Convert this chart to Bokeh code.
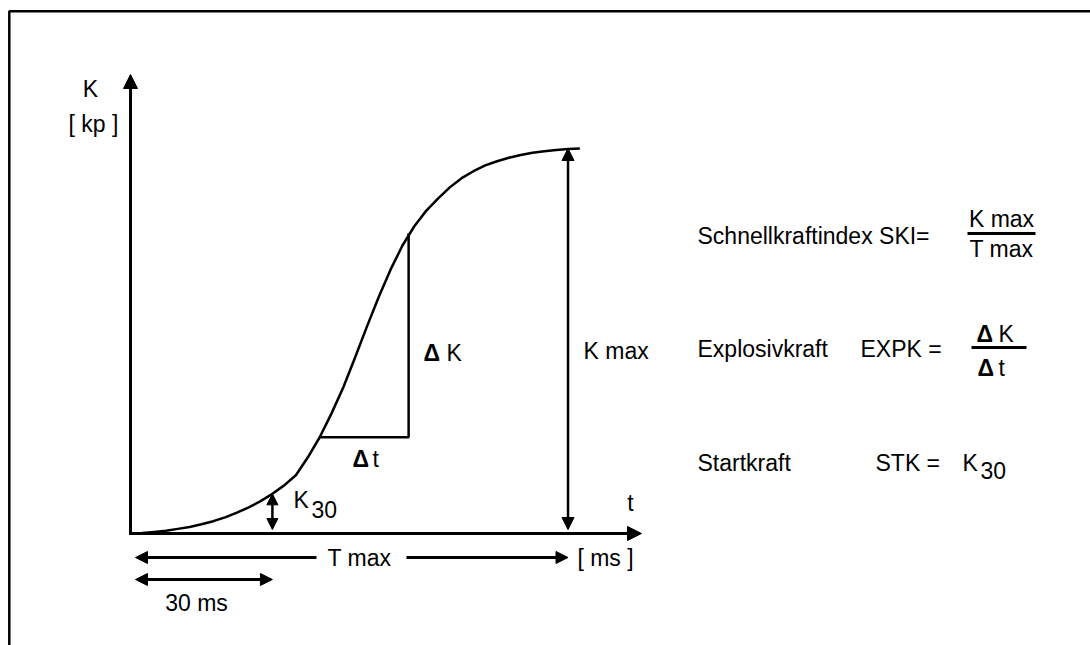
from bokeh.plotting import figure
from bokeh.models import Range1d, Arrow, NormalHead, ColumnDataSource
from bokeh.core.properties import value
from bokeh.embed import file_html
from bokeh.resources import INLINE

# ---- data (schematic force-time curve) ----
t_ms = [0, 2.5, 5, 7.5, 10, 12.5, 15, 17.5, 20, 22.5, 25, 27.5, 30, 32.5, 35, 37.5, 40,
        42.5, 45, 47.5, 50, 52.5, 55, 57.5, 60, 62.5, 65, 67.5, 70, 72.5, 75, 77.5, 80,
        82.5, 85, 87.5, 90, 92.5, 95]
K_kp = [0, 0.1, 0.4, 0.7, 1.2, 1.7, 2.4, 3.2, 4.2, 5.4, 6.8, 8.4, 10.3, 12.5, 15.2, 19.8, 25,
        31.2, 38, 45.8, 53.8, 61.5, 68.6, 74.8, 79.8, 83.8, 87, 89.9, 92.3, 94.1, 95.6, 96.7, 97.6,
        98.3, 98.9, 99.3, 99.6, 99.85, 100]
t30 = 30.0
K30 = 10.3
dt_t = [40.0, 58.8]
dK_k = [25.0, 78.0]
Tmax = 92.5
Kmax = 100.0

# ---- layout helpers (page pixel -> data units) ----
X0, Y0, SX, SY = 130.0, 533.0, 4.73, 3.85
def tx(px):
    return (px - X0) / SX
def ky(py):
    return (Y0 - py) / SY

FONT = value("Liberation Sans")
FS = "23px"

p = figure(width=1090, height=645,
           x_range=Range1d(tx(0), tx(1090)), y_range=Range1d(ky(645), ky(0)),
           output_backend="svg", toolbar_location=None, min_border=0,
           x_axis_location=None, y_axis_location=None, outline_line_color=None)
p.grid.visible = False
p.background_fill_color = "white"
p.border_fill_color = "white"

# frame border (left + top)
p.line([tx(8.8), tx(8.8), tx(1110)], [ky(700), ky(10.8), ky(10.8)], line_width=2.5, color="black")

def head(s):
    return NormalHead(size=s, fill_color="black", line_color="black", line_width=1)

# axes
p.add_layout(Arrow(end=head(14), x_start=0, y_start=ky(534.5), x_end=0, y_end=ky(74),
                   line_width=3, line_color="black"))
p.add_layout(Arrow(end=head(14), x_start=0, y_start=0, x_end=tx(641), y_end=0,
                   line_width=3, line_color="black"))

# curve
p.line(t_ms, K_kp, line_width=2.5, color="black", line_join="round")

# delta triangle
p.line([dt_t[0], dt_t[1], dt_t[1]], [dK_k[0], dK_k[0], dK_k[1]], line_width=2.5, color="black")

# K30 arrow
p.add_layout(Arrow(start=head(11), end=head(11), x_start=t30, y_start=ky(529), x_end=t30, y_end=K30,
                   line_width=2.5, line_color="black"))
# Kmax arrow
p.add_layout(Arrow(start=head(12), end=head(12), x_start=Tmax, y_start=ky(529), x_end=Tmax, y_end=Kmax,
                   line_width=2.5, line_color="black"))
# Tmax arrows
yT = ky(557)
p.add_layout(Arrow(end=head(12), x_start=tx(316), y_start=yT, x_end=tx(135), y_end=yT,
                   line_width=3, line_color="black"))
p.add_layout(Arrow(end=head(12), x_start=tx(406), y_start=yT, x_end=Tmax, y_end=yT,
                   line_width=3, line_color="black"))
# 30 ms arrow
y30 = ky(579)
p.add_layout(Arrow(start=head(12), end=head(12), x_start=tx(135), y_start=y30, x_end=t30, y_end=y30,
                   line_width=3, line_color="black"))

# fraction bars
p.segment(x0=[tx(967), tx(971)], y0=[ky(233), ky(347)], x1=[tx(1035), tx(1026)], y1=[ky(233), ky(347)],
          line_width=3, color="black")

# texts
labels = [
    ("K", 90, 88, "center"),
    ("[ kp ]", 93, 123, "center"),
    ("t", 630, 502, "center"),
    ("T max", 359, 557, "center"),
    ("[ ms ]", 605, 557, "center"),
    ("30 ms", 196, 602, "center"),
    ("K", 293, 499, "left"),
    ("30", 311, 509, "left"),
    ("t", 372, 458, "left"),
    ("K", 446, 352, "left"),
    ("K max", 583, 350, "left"),
    ("Schnellkraftindex SKI=", 697, 235, "left"),
    ("K max", 1001, 218, "center"),
    ("T max", 1001, 248, "center"),
    ("Explosivkraft", 697, 348, "left"),
    ("EXPK =", 860, 348, "left"),
    ("K", 998, 333, "left"),
    ("t", 998, 367, "left"),
    ("Startkraft", 697, 462, "left"),
    ("STK =", 875, 462, "left"),
    ("K", 962, 462, "left"),
    ("30", 980, 470, "left"),
]
src = ColumnDataSource(dict(
    x=[tx(l[1]) for l in labels], y=[ky(l[2]) for l in labels],
    text=[l[0] for l in labels], align=[l[3] for l in labels]))
p.text(x="x", y="y", text="text", text_align="align", source=src, text_baseline="middle",
       text_font=FONT, text_font_size=FS, text_color="black")

deltas = [(352, 458), (423, 352), (976, 333), (977, 367)]
dsrc = ColumnDataSource(dict(x=[tx(d[0]) for d in deltas], y=[ky(d[1]) for d in deltas],
                             text=["\u0394"] * len(deltas)))
p.text(x="x", y="y", text="text", source=dsrc, text_baseline="middle", text_align="left",
       text_font=FONT, text_font_size=FS, text_font_style="bold", text_color="black")

open("out.html", "w").write(file_html(p, INLINE))
